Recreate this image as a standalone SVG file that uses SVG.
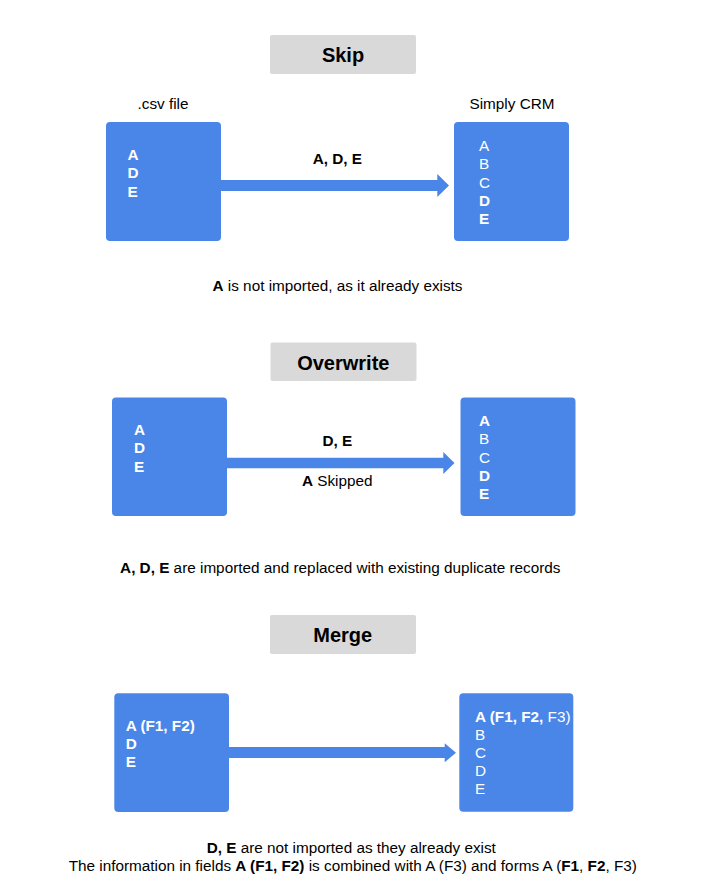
<svg xmlns="http://www.w3.org/2000/svg" width="705" height="890" viewBox="0 0 705 890">
<style>
text{font-family:"Liberation Sans",Arial,sans-serif;font-size:15.3px;fill:#000}
.title{font-size:20px;font-weight:bold;text-anchor:middle}
.tbox{fill:#d9d9d9}
.box{fill:#4a86e8}
.w{fill:#fff}
.b{font-weight:bold}
.c{text-anchor:middle}
.arrow{fill:#4a86e8}
</style>
<rect width="705" height="890" fill="#fff"/>

<!-- Skip -->
<g id="skip-title"><rect class="tbox" x="270" y="35" width="146" height="39" rx="2"/><text class="title" x="343" y="62">Skip</text></g>
<g id="skip-csv-label"><text class="c" x="163" y="109">.csv file</text></g>
<g id="skip-crm-label"><text class="c" x="512" y="109">Simply CRM</text></g>
<g id="skip-csv"><rect class="box" x="106" y="122" width="115" height="119" rx="4"/>
<text class="w b" x="127.5" y="160">A</text><text class="w b" x="127.5" y="178">D</text><text class="w b" x="127.5" y="196.5">E</text></g>
<g id="skip-crm"><rect class="box" x="454" y="122" width="115" height="119" rx="4"/>
<text class="w" x="479" y="150.7">A</text><text class="w" x="479" y="169.2">B</text><text class="w" x="479" y="187.7">C</text><text class="w b" x="479" y="205.7">D</text><text class="w b" x="479" y="223.5">E</text></g>
<g id="skip-caption"><text class="c" x="337.5" y="290.7"><tspan class="b">A</tspan> is not imported, as it already exists</text></g>

<!-- Overwrite -->
<g id="overwrite-title"><rect class="tbox" x="270.5" y="342.5" width="146" height="38.5" rx="2"/><text class="title" x="343.3" y="370">Overwrite</text></g>
<g id="overwrite-csv"><rect class="box" x="112" y="397.5" width="115" height="118.5" rx="4"/>
<text class="w b" x="134" y="435">A</text><text class="w b" x="134" y="453">D</text><text class="w b" x="134" y="471.5">E</text></g>
<g id="overwrite-crm"><rect class="box" x="460.5" y="397.5" width="115" height="118.5" rx="4"/>
<text class="w b" x="479" y="425.7">A</text><text class="w" x="479" y="443.5">B</text><text class="w" x="479" y="462.5">C</text><text class="w b" x="479" y="480.7">D</text><text class="w b" x="479" y="498.5">E</text></g>
<g id="overwrite-caption"><text class="c" x="340.3" y="572.7"><tspan class="b">A, D, E</tspan> are imported and replaced with existing duplicate records</text></g>

<!-- Merge -->
<g id="merge-title"><rect class="tbox" x="270" y="615" width="146" height="39" rx="2"/><text class="title" x="342.7" y="641.7">Merge</text></g>
<g id="merge-csv"><rect class="box" x="114.3" y="693.3" width="114.7" height="118.7" rx="4"/>
<text class="w b" x="125.7" y="731">A (F1, F2)</text><text class="w b" x="125.7" y="749">D</text><text class="w b" x="125.7" y="767.3">E</text></g>
<g id="merge-crm"><rect class="box" x="459.3" y="693.3" width="114" height="118.4" rx="4"/>
<text class="w" x="475" y="721.7"><tspan class="b">A (F1, F2,</tspan> F3)</text><text class="w" x="475" y="739.5">B</text><text class="w" x="475" y="757.7">C</text><text class="w" x="475" y="776">D</text><text class="w" x="475" y="793.7">E</text></g>
<g id="merge-caption">
<text class="c" x="351.3" y="853.3"><tspan class="b">D, E</tspan> are not imported as they already exist</text>
<text class="c" x="352.8" y="871">The information in fields <tspan class="b">A (F1, F2)</tspan> is combined with A (F3) and forms A (<tspan class="b">F1</tspan>, <tspan class="b">F2</tspan>, F3)</text>
</g>

<!-- Connectors -->
<g id="connectors">
<g id="skip-arrow"><polygon class="arrow" points="221,180 437.3,180 437.3,174 449,185.5 437.3,197 437.3,191 221,191"/>
<text class="b c" x="337.3" y="164.3">A, D, E</text></g>
<g id="overwrite-arrow"><polygon class="arrow" points="227,457.7 443.3,457.7 443.3,452 454.5,463 443.3,474 443.3,468.3 227,468.3"/>
<text class="b c" x="337.3" y="445.7">D, E</text>
<text class="c" x="337.2" y="486.3"><tspan class="b">A</tspan> Skipped</text></g>
<g id="merge-arrow"><polygon class="arrow" points="229,747 444.7,747 444.7,743.3 456,752.7 444.7,762.3 444.7,758 229,758"/></g>
</g>
</svg>
